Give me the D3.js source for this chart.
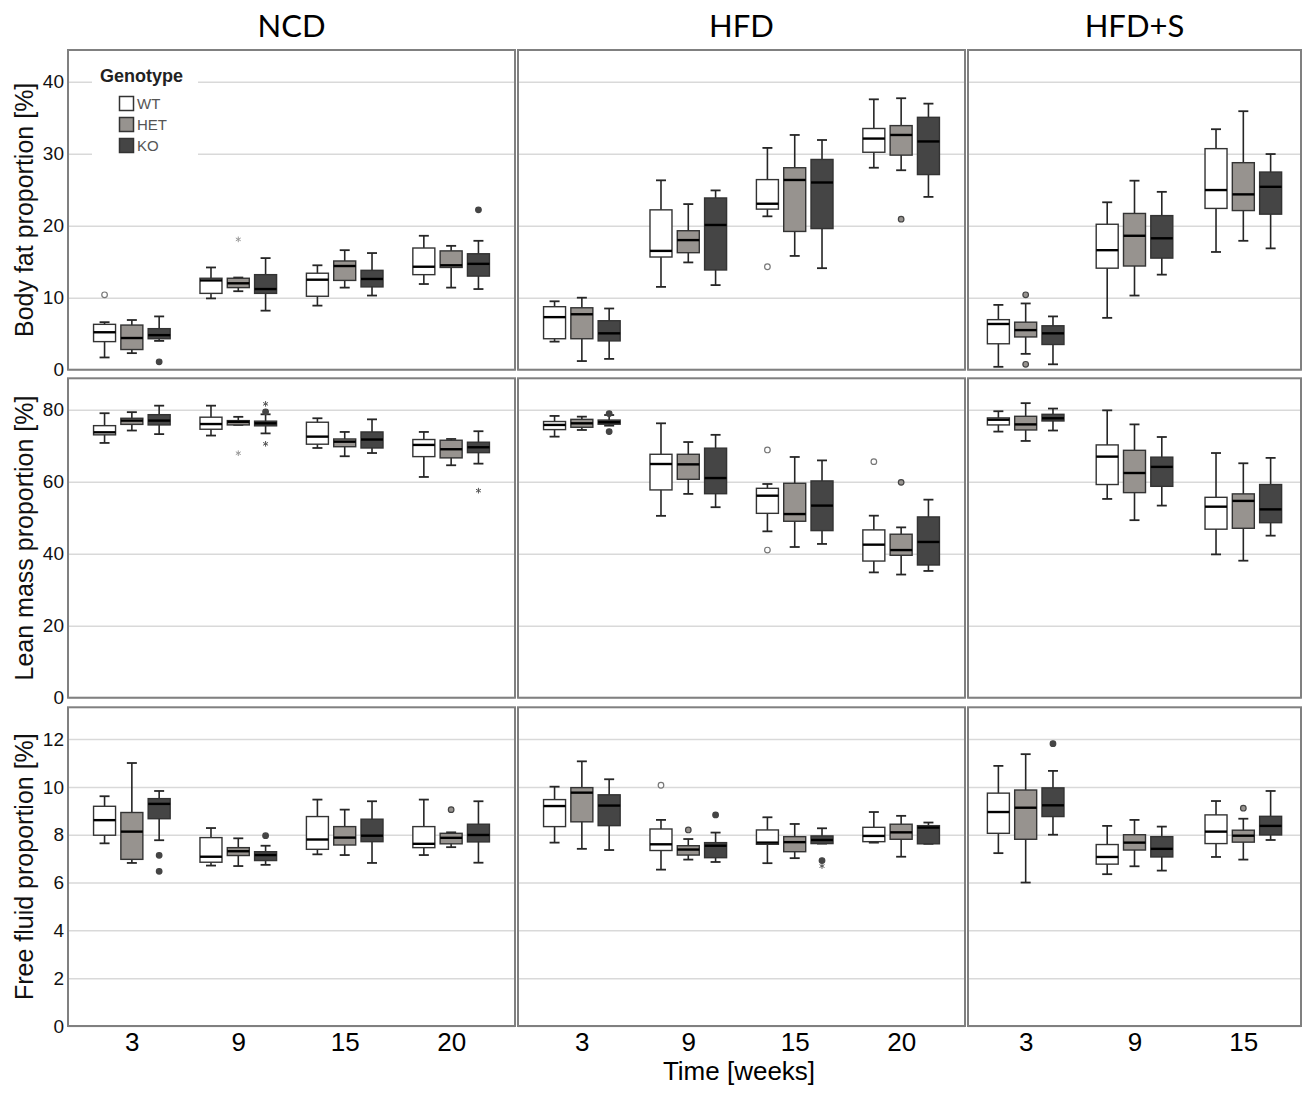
<!DOCTYPE html>
<html>
<head>
<meta charset="utf-8">
<script src="https://cdn.jsdelivr.net/npm/d3@7"></script>
<style>
  body { margin: 0; background: #fff; }
  text { font-family: "Liberation Sans", Arial, sans-serif; }
</style>
</head>
<body>
<svg id="chart" width="1302" height="1093"></svg>
<script>
var diets = ["NCD", "HFD", "HFD+S"];
var weeks = [["3", "9", "15", "20"], ["3", "9", "15", "20"], ["3", "9", "15"]];
var genotypes = ["WT", "HET", "KO"];
var genoColors = ["#ffffff", "#97938f", "#454545"];
var metrics = ["Body fat proportion [%]", "Lean mass proportion [%]", "Free fluid proportion [%]"];
var fatTicks = [0, 10, 20, 30, 40],
    leanTicks = [0, 20, 40, 60, 80],
    fluidTicks = [0, 2, 4, 6, 8, 10, 12];

// each box: [low whisker, q1, median, q3, high whisker], ordered week by week, WT/HET/KO
var fatNCD = [
  [1.7, 3.9, 5.2, 6.3, 6.6], [2.3, 2.8, 4.4, 6.2, 6.9], [4.0, 4.3, 4.8, 5.7, 7.4],
  [9.9, 10.6, 12.4, 12.7, 14.2], [10.9, 11.4, 12.0, 12.7, 12.8], [8.2, 10.6, 11.2, 13.2, 15.5],
  [8.9, 10.2, 12.5, 13.4, 14.5], [11.4, 12.4, 14.4, 15.1, 16.6], [10.3, 11.5, 12.6, 13.8, 16.2],
  [11.9, 13.2, 14.3, 16.9, 18.6], [11.4, 14.2, 14.5, 16.5, 17.2], [11.2, 13.0, 14.7, 16.1, 17.9]
];
var fatHFD = [
  [3.9, 4.3, 7.3, 8.75, 9.5], [1.2, 4.3, 7.7, 8.6, 10.0], [1.5, 4.0, 5.05, 6.8, 8.5],
  [11.5, 15.65, 16.5, 22.2, 26.3], [14.9, 16.25, 18.0, 19.3, 23.0], [11.75, 13.85, 20.1, 23.85, 24.9],
  [21.3, 22.3, 23.05, 26.4, 30.8], [15.8, 19.2, 26.35, 28.05, 32.6], [14.1, 19.6, 26.0, 29.2, 31.9],
  [28.05, 30.2, 32.1, 33.5, 37.55], [27.7, 29.8, 32.6, 33.9, 37.7], [24.0, 27.1, 31.7, 35.05, 36.95]
];
var fatHFDS = [
  [0.4, 3.6, 6.35, 6.95, 9.0], [2.2, 4.55, 5.5, 6.6, 9.2], [0.75, 3.5, 5.05, 6.1, 7.4],
  [7.2, 14.1, 16.6, 20.2, 23.25], [10.3, 14.4, 18.6, 21.7, 26.25], [13.2, 15.5, 18.25, 21.4, 24.7],
  [16.35, 22.4, 24.95, 30.7, 33.4], [17.9, 22.1, 24.35, 28.75, 35.9], [16.85, 21.6, 25.4, 27.45, 29.95]
];
var leanNCD = [
  [70.75, 73.0, 73.7, 75.55, 79.0], [74.2, 75.9, 76.95, 77.6, 79.3], [73.2, 75.75, 76.95, 78.6, 81.1],
  [72.8, 74.55, 76.0, 77.9, 81.1], [75.75, 75.75, 76.6, 76.95, 78.0], [73.4, 75.5, 76.2, 76.8, 78.7],
  [69.35, 70.4, 72.5, 76.5, 77.6], [67.05, 69.7, 71.1, 71.85, 73.8], [67.95, 69.35, 71.7, 73.8, 77.3],
  [61.3, 66.95, 70.2, 71.7, 73.8], [64.55, 66.6, 69.0, 71.5, 71.85], [65.0, 68.05, 69.55, 70.95, 74.0]
];
var leanHFD = [
  [72.5, 74.45, 75.75, 76.7, 78.25], [74.35, 75.1, 76.2, 77.3, 78.05], [75.55, 75.95, 76.5, 77.1, 78.5],
  [50.5, 57.7, 64.9, 67.6, 76.2], [56.6, 60.65, 64.8, 67.6, 71.0], [52.9, 56.65, 61.0, 69.3, 73.0],
  [46.2, 51.2, 56.1, 58.15, 59.35], [41.85, 49.0, 51.0, 59.55, 66.85], [42.7, 46.4, 53.35, 60.2, 65.9],
  [34.8, 37.95, 42.5, 46.6, 50.55], [34.2, 39.55, 41.0, 45.4, 47.3], [35.2, 36.85, 43.25, 50.2, 55.0]
];
var leanHFDS = [
  [73.9, 75.75, 77.2, 77.7, 79.55], [71.3, 74.35, 75.9, 78.15, 81.8], [74.2, 76.85, 77.6, 78.7, 80.3],
  [55.2, 59.2, 66.95, 70.2, 79.8], [49.3, 56.95, 62.4, 68.7, 75.9], [53.35, 58.7, 64.1, 66.8, 72.4],
  [39.8, 46.8, 53.05, 55.65, 67.95], [38.05, 47.05, 54.65, 56.6, 65.1], [45.0, 48.6, 52.3, 59.2, 66.6]
];
var fluidNCD = [
  [7.64, 7.98, 8.61, 9.19, 9.61], [6.82, 6.97, 8.13, 8.93, 11.0], [7.77, 8.67, 9.29, 9.51, 9.83],
  [6.71, 6.85, 7.08, 7.88, 8.28], [6.69, 7.13, 7.31, 7.46, 7.85], [6.74, 6.92, 7.15, 7.29, 7.54],
  [7.18, 7.39, 7.8, 8.76, 9.47], [7.15, 7.57, 7.88, 8.34, 9.05], [6.82, 7.71, 7.96, 8.65, 9.4],
  [7.15, 7.46, 7.62, 8.34, 9.47], [7.48, 7.62, 7.87, 8.06, 8.1], [6.83, 7.7, 7.99, 8.44, 9.4]
];
var fluidHFD = [
  [7.67, 8.34, 9.2, 9.47, 10.01], [7.41, 8.54, 9.76, 9.97, 11.07], [7.36, 8.38, 9.22, 9.67, 10.32],
  [6.54, 7.34, 7.6, 8.24, 8.62], [6.96, 7.15, 7.38, 7.54, 7.82], [6.86, 7.04, 7.54, 7.67, 8.09],
  [6.81, 7.6, 7.67, 8.2, 8.73], [7.02, 7.29, 7.69, 7.92, 8.45], [7.63, 7.63, 7.78, 7.95, 8.27],
  [7.67, 7.71, 7.95, 8.31, 8.95], [7.08, 7.81, 8.1, 8.44, 8.79], [7.62, 7.62, 8.3, 8.38, 8.51]
];
var fluidHFDS = [
  [7.23, 8.06, 8.95, 9.74, 10.88], [6.0, 7.81, 9.13, 9.87, 11.37], [8.0, 8.76, 9.23, 9.96, 10.67],
  [6.35, 6.77, 7.07, 7.59, 8.37], [6.68, 7.36, 7.67, 8.0, 8.62], [6.5, 7.07, 7.41, 7.92, 8.34],
  [7.07, 7.63, 8.13, 8.83, 9.41], [6.96, 7.69, 7.96, 8.19, 8.67], [7.78, 7.99, 8.37, 8.77, 9.83]
];

// outliers: [week index, genotype index, value, "o" circle / "*" extreme]
var fatNCDOut = [[0, 0, 10.4, "o"], [0, 2, 1.1, "o"], [1, 1, 18.1, "*"], [3, 2, 22.2, "o"]];
var fatHFDOut = [[2, 0, 14.3, "o"], [3, 1, 20.9, "o"]];
var fatHFDSOut = [[0, 1, 10.4, "o"], [0, 1, 0.75, "o"]];
var leanNCDOut = [[1, 1, 67.9, "*"], [1, 2, 79.4, "o"], [1, 2, 81.6, "*"], [1, 2, 70.5, "*"], [3, 2, 57.5, "*"]];
var leanHFDOut = [[0, 2, 78.9, "o"], [0, 2, 73.9, "o"], [2, 0, 68.8, "o"], [2, 0, 41.0, "o"],
                  [3, 0, 65.55, "o"], [3, 1, 59.8, "o"]];
var leanHFDSOut = [];
var fluidNCDOut = [[0, 2, 7.14, "o"], [0, 2, 6.47, "o"], [1, 2, 7.96, "o"], [3, 1, 9.05, "o"]];
var fluidHFDOut = [[1, 0, 10.07, "o"], [1, 1, 8.2, "o"], [1, 2, 8.83, "o"], [2, 2, 6.92, "o"], [2, 2, 6.69, "*"]];
var fluidHFDSOut = [[0, 2, 11.81, "o"], [2, 1, 9.11, "o"]];

var boxes = [[fatNCD, fatHFD, fatHFDS], [leanNCD, leanHFD, leanHFDS], [fluidNCD, fluidHFD, fluidHFDS]];
var outliers = [[fatNCDOut, fatHFDOut, fatHFDSOut], [leanNCDOut, leanHFDOut, leanHFDSOut],
                [fluidNCDOut, fluidHFDOut, fluidHFDSOut]];
var rowTicks = [fatTicks, leanTicks, fluidTicks];

// layout
var cols = [[68, 515], [518, 965], [968, 1301]],
    rows = [[50, 369.7], [378.3, 697.7], [707.3, 1026]],
    yTop = [44.4, 88.7, 13.33],
    colPadding = [0.6, 0.6, 0.53],
    boxW = 22, dodge = 27.3;

var svg = d3.select("#chart");

// panel titles
svg.selectAll(".diet")
  .data(diets)
  .enter().append("text")
  .attr("x", (d, i) => (cols[i][0] + cols[i][1]) / 2)
  .attr("y", 37)
  .attr("text-anchor", "middle")
  .style("font-family", "Lato, 'Open Sans', sans-serif")
  .style("font-size", "31px")
  .attr("fill", "#000")
  .text(d => d);

rows.forEach(function(r, ri) {
  var y = d3.scaleLinear().domain([0, yTop[ri]]).range([r[1], r[0]]);

  cols.forEach(function(c, ci) {
    var x = d3.scalePoint().domain(weeks[ci]).range(c).padding(colPadding[ci]);
    var w = c[1] - c[0];
    var g = svg.append("g");

    // grid
    g.append("g")
      .attr("transform", "translate(" + c[0] + ",0)")
      .call(d3.axisLeft(y).tickValues(rowTicks[ri]).tickSize(-w).tickFormat(""))
      .call(a => a.select(".domain").remove())
      .call(a => a.selectAll("line").attr("stroke", "#d9d9d9").attr("stroke-width", 1.5));

    // legend background goes over the grid
    if (ri === 0 && ci === 0) {
      var lg = g.append("g");
      lg.append("rect").attr("x", 92).attr("y", 60).attr("width", 106).attr("height", 100).attr("fill", "#fff");
      lg.append("text").attr("x", 100).attr("y", 82)
        .style("font-size", "18px").style("font-weight", "bold").attr("fill", "#222")
        .text("Genotype");
      genotypes.forEach(function(gt, gi) {
        lg.append("rect").attr("x", 119.5).attr("y", 96.5 + gi * 21).attr("width", 14).attr("height", 14)
          .attr("fill", genoColors[gi]).attr("stroke", "#333").attr("stroke-width", 1.5);
        lg.append("text").attr("x", 137).attr("y", 109 + gi * 21)
          .style("font-size", "15px").attr("fill", "#555").text(gt);
      });
    }

    // boxes
    var data = boxes[ri][ci].map(function(b, k) {
      return { week: weeks[ci][Math.floor(k / 3)], gi: k % 3, v: b };
    });
    var bx = d => x(d.week) + (d.gi - 1) * dodge;

    var bg = g.selectAll(".box").data(data).enter().append("g");
    bg.append("line")
      .attr("x1", bx).attr("x2", bx)
      .attr("y1", d => y(d.v[0])).attr("y2", d => y(d.v[4]))
      .attr("stroke", "#262626").attr("stroke-width", 1.6);
    [0, 4].forEach(function(j) {
      bg.append("line")
        .attr("x1", d => bx(d) - 5).attr("x2", d => bx(d) + 5)
        .attr("y1", d => y(d.v[j])).attr("y2", d => y(d.v[j]))
        .attr("stroke", "#262626").attr("stroke-width", 1.8);
    });
    bg.append("rect")
      .attr("x", d => bx(d) - boxW / 2).attr("width", boxW)
      .attr("y", d => y(d.v[3])).attr("height", d => Math.max(1, y(d.v[1]) - y(d.v[3])))
      .attr("fill", d => genoColors[d.gi])
      .attr("stroke", "#333").attr("stroke-width", 1.4);
    bg.append("line")
      .attr("x1", d => bx(d) - boxW / 2).attr("x2", d => bx(d) + boxW / 2)
      .attr("y1", d => y(d.v[2])).attr("y2", d => y(d.v[2]))
      .attr("stroke", "#000").attr("stroke-width", 2.4);

    // outliers
    var od = outliers[ri][ci].map(o => ({ week: weeks[ci][o[0]], gi: o[1], val: o[2], kind: o[3] }));
    g.selectAll(".out").data(od.filter(o => o.kind === "o")).enter().append("circle")
      .attr("cx", bx).attr("cy", d => y(d.val)).attr("r", 2.8)
      .attr("fill", d => genoColors[d.gi])
      .attr("stroke", d => d.gi === 0 ? "#777" : "#444").attr("stroke-width", 1.2);
    g.selectAll(".ext").data(od.filter(o => o.kind === "*")).enter().append("path")
      .attr("transform", d => "translate(" + bx(d) + "," + y(d.val) + ")")
      .attr("d", d3.symbol(d3.symbolAsterisk, 22))
      .attr("fill", "none")
      .attr("stroke", d => d.gi === 2 ? "#555" : "#999").attr("stroke-width", 1);

    // panel frame
    g.append("rect")
      .attr("x", c[0]).attr("y", r[0]).attr("width", w).attr("height", r[1] - r[0])
      .attr("fill", "none").attr("stroke", "#808080").attr("stroke-width", 2);

    // y labels on the left column
    if (ci === 0) {
      g.append("g")
        .attr("transform", "translate(" + (c[0] - 4) + ",0)")
        .call(d3.axisLeft(y).tickValues(rowTicks[ri]).tickSize(0).tickPadding(0))
        .call(a => a.select(".domain").remove())
        .call(a => a.selectAll("text")
          .style("font-family", "'Liberation Sans', Arial, sans-serif")
          .style("font-size", "19px").attr("fill", "#111"));

      g.append("text")
        .attr("transform", "translate(33," + ((r[0] + r[1]) / 2) + ") rotate(-90)")
        .attr("text-anchor", "middle")
        .style("font-size", "25px").attr("fill", "#111")
        .text(metrics[ri]);
    }

    // week labels under the bottom row
    if (ri === 2) {
      g.append("g")
        .attr("transform", "translate(0," + r[1] + ")")
        .call(d3.axisBottom(x).tickSize(0).tickPadding(0))
        .call(a => a.select(".domain").remove())
        .call(a => a.selectAll("text")
          .attr("dy", null).attr("y", 25)
          .style("font-family", "'Liberation Sans', Arial, sans-serif")
          .style("font-size", "26px").attr("fill", "#000"));
    }
  });
});

svg.append("text")
  .attr("x", 739).attr("y", 1080)
  .attr("text-anchor", "middle")
  .style("font-size", "26px").attr("fill", "#000")
  .text("Time [weeks]");
</script>
</body>
</html>
